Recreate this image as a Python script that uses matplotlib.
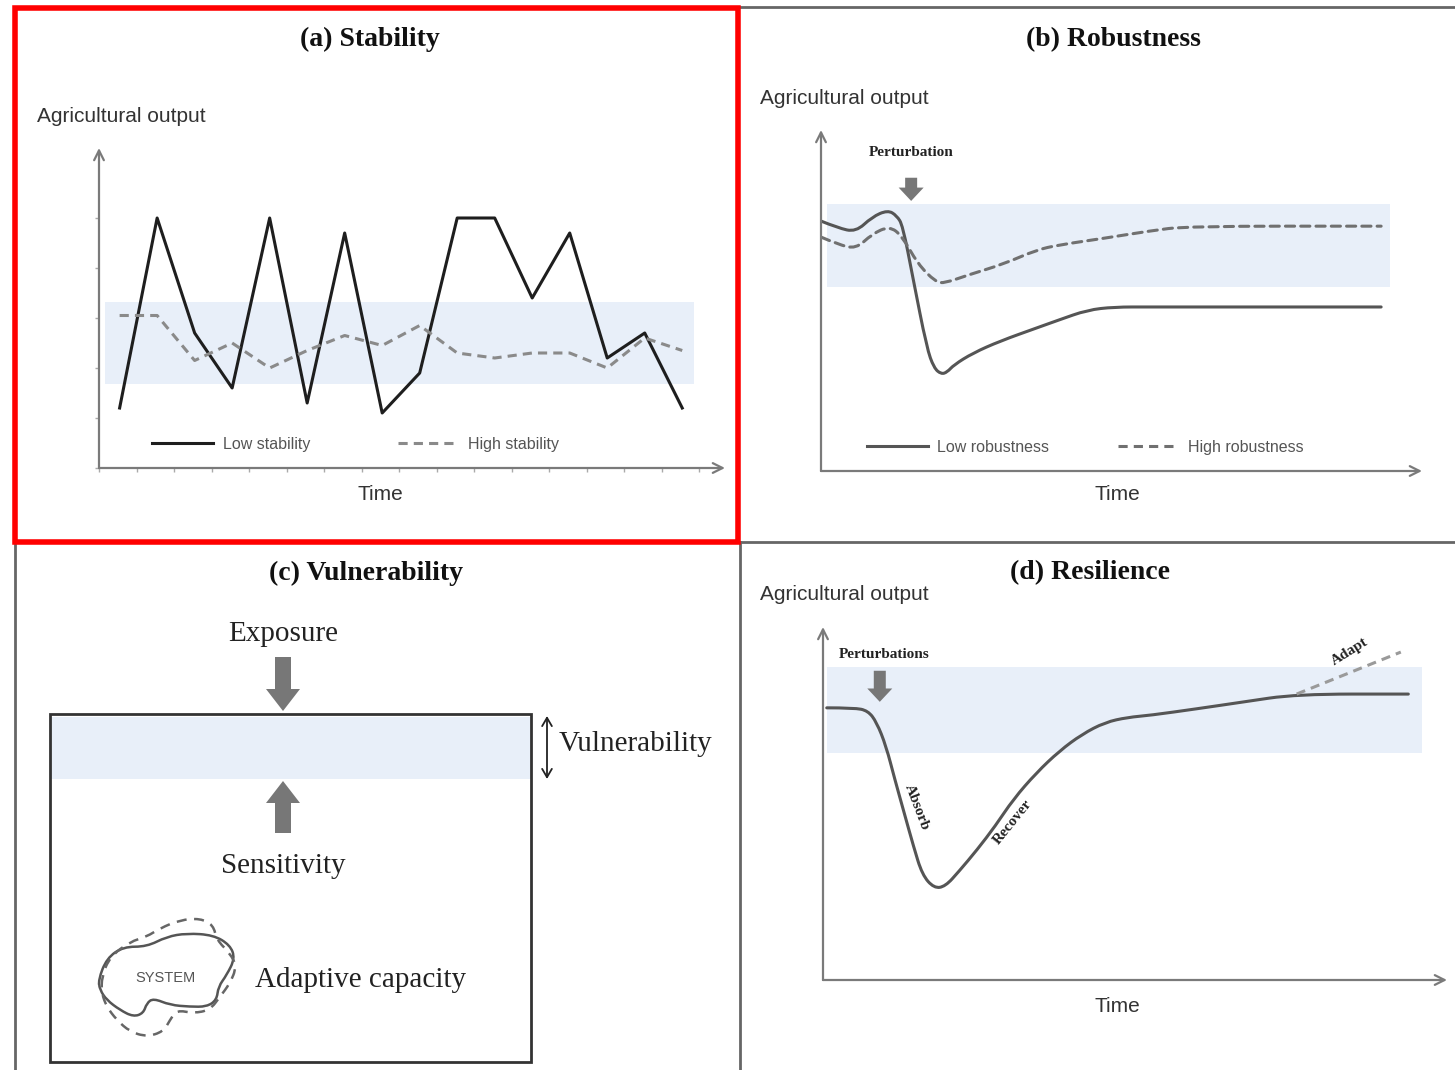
import numpy as np
import matplotlib.pyplot as plt
from matplotlib.patches import Rectangle, FancyArrow, PathPatch
from matplotlib.path import Path
from matplotlib.lines import Line2D

W, H = 1455, 1070

# (a) Stability
time_a = [0.55, 1.55, 2.55, 3.55, 4.55, 5.55, 6.55, 7.55, 8.55, 9.55, 10.55, 11.55, 12.55, 13.55, 14.55, 15.55]
low_stability = [1.2, 5.0, 2.7, 1.6, 5.0, 1.3, 4.7, 1.1, 1.9, 5.0, 5.0, 3.4, 4.7, 2.2, 2.7, 1.2]
high_stability = [3.05, 3.05, 2.15, 2.5, 2.0, 2.35, 2.65, 2.45, 2.85, 2.3, 2.2, 2.3, 2.3, 2.0, 2.6, 2.35]
band_a_x = (0.16, 15.87)
band_a_y = (1.68, 3.32)

# (b) Robustness
time_b_low = [0, 2.8, 5.8, 8.5, 11.1, 12.6, 13.6, 15.3, 17.6, 18.8, 20.0, 21.0, 22.1, 25.3, 29.8, 35.8, 39.6, 44.3, 48.8, 54.7, 93.2]
low_robust = [73.3, 71.3, 70.1, 74.5, 76.5, 74.9, 72.0, 56.6, 36.1, 30.2, 28.4, 29.0, 31.1, 34.6, 38.1, 41.9, 44.3, 47.2, 48.1, 48.1, 48.1]
time_b_high = [0, 2.8, 5.8, 8.5, 11.4, 13.5, 16.1, 19.1, 20.6, 24.5, 30.4, 35.8, 39.6, 47.3, 54.7, 60.9, 93.2]
high_robust = [68.6, 66.5, 65.1, 69.5, 71.8, 68.9, 60.7, 55.4, 55.1, 57.5, 60.7, 64.8, 66.3, 68.3, 70.4, 71.8, 71.8]
band_b_x = (1.0, 94.7)
band_b_y = (54.0, 78.3)
perturb_b = (15.0, 86.0, 79.2)  # time, arrow top, arrow tip

# (d) Resilience
time_d = [0.6, 5.0, 7.2, 8.6, 10.1, 11.5, 13.0, 14.5, 15.9, 17.8, 19.6, 21.8, 24.7, 27.6, 30.5,
          34.2, 37.9, 41.5, 45.2, 48.8, 52.5, 59.8, 67.1, 75.9, 93.8]
output_d = [77.1, 77.1, 76.3, 73.0, 66.3, 56.9, 47.4, 37.9, 29.8, 26.0, 26.5, 30.8, 36.9, 43.6, 51.2,
            58.7, 64.9, 69.6, 73.0, 74.4, 75.0, 76.8, 78.7, 81.0, 81.0]
adapt_t = [75.9, 92.6]
adapt_y = [81.0, 92.9]
band_d_x = (0.6, 96.0)
band_d_y = (64.3, 88.7)
perturb_d = (9.1, 87.6, 78.8)

# (c) system blob outlines (offsets from blob centre, px)
blob_solid_x = [-66.7, -58.3, -41.7, -18.3, 1.7, 21.7, 48.3, 65, 70, 61.7, 53.3, 51.7, 41.7, 25, 5, -11.7, -18.3, -21.7, -31.7, -45, -58.3, -65]
blob_solid_y = [2, -19.7, -31.3, -31.3, -41.3, -44.7, -43, -33, -19.7, -3, 8.7, 22, 28.7, 28.7, 27, 20.3, 25.3, 35.3, 38.7, 32, 22, 12]
blob_dash_x = [-63.3, -55, -35, -18.3, -5, 15, 35, 48.3, 51.7, 65, 71.7, 65, 55, 45, 28.3, 11.7, 5, -1.7, -18.3, -35, -48.3, -58.3, -63.3]
blob_dash_y = [-1.3, -21.3, -36.3, -41.3, -49.7, -58, -59.7, -53, -38, -24.7, -11.3, 5.3, 18.7, 32, 35.3, 32, 42, 53.7, 58.7, 53.7, 42, 28.7, 15.3]

SERIF = 'Liberation Serif'
SANS = 'Liberation Sans'
BAND = '#e8eff9'
AXC = '#7a7a7a'
DASH = (0, (3, 2))

fig = plt.figure(figsize=(W / 100, H / 100), dpi=100)
bg = fig.add_axes([0, 0, 1, 1])
bg.set_xlim(0, W)
bg.set_ylim(H, 0)
bg.axis('off')


def panel_ax(x0, ytop, x1, ybot, xmax, ymax):
    ax = fig.add_axes([x0 / W, 1 - ybot / H, (x1 - x0) / W, (ybot - ytop) / H])
    ax.set_xlim(0, xmax)
    ax.set_ylim(0, ymax)
    ax.patch.set_alpha(0)
    for s in ax.spines.values():
        s.set_visible(False)
    ax.set_xticks([])
    ax.set_yticks([])
    arr = dict(arrowstyle='->,head_length=0.7,head_width=0.35', lw=1.6, color=AXC, shrinkA=0, shrinkB=0)
    ax.annotate('', xy=(1, 0), xytext=(0, 0), xycoords='axes fraction', arrowprops=arr)
    ax.annotate('', xy=(0, 1), xytext=(0, 0), xycoords='axes fraction', arrowprops=arr)
    return ax


def perturb(ax, p):
    ax.annotate('', xy=(p[0], p[2]), xytext=(p[0], p[1]),
                arrowprops=dict(arrowstyle='simple,head_length=0.4,head_width=0.75,tail_width=0.36',
                                fc='#777777', ec='none', mutation_scale=24, shrinkA=0, shrinkB=0))


def smooth_open(xs, ys):
    # quadratic b-spline through the read points (rounded corners like the drawing)
    pts = np.column_stack([xs, ys])
    verts = [pts[0]]
    codes = [Path.MOVETO]
    for i in range(1, len(pts) - 1):
        verts += [pts[i], (pts[i] + pts[i + 1]) / 2]
        codes += [Path.CURVE3, Path.CURVE3]
    verts.append(pts[-1])
    codes.append(Path.LINETO)
    return Path(verts, codes)


def smooth_closed(xs, ys):
    pts = np.column_stack([xs, ys])
    mids = (pts + np.roll(pts, -1, axis=0)) / 2
    verts = [mids[-1]]
    codes = [Path.MOVETO]
    for i in range(len(pts)):
        verts += [pts[i], mids[i]]
        codes += [Path.CURVE3, Path.CURVE3]
    return Path(verts, codes)


def curve(ax, xs, ys, **kw):
    ax.add_patch(PathPatch(smooth_open(xs, ys), fill=False, capstyle='round', joinstyle='round', **kw))


# ---- frames
bg.add_patch(Rectangle((15, 8), 723, 534, fill=False, ec='#ff0000', lw=4, zorder=5))
for xs, ys in [([740, 1455], [7, 7]), ([740, 1455], [542, 542]), ([740, 740], [542, 1070]), ([15, 15], [542, 1070])]:
    bg.plot(xs, ys, color='#666666', lw=2)

# ---- (a)
ax = panel_ax(99, 148, 725, 468, 16.69, 6.4)
ax.set_xticks(range(0, 17))
ax.set_yticks(range(0, 6))
ax.tick_params(length=3, width=1, color='#aaaaaa', labelbottom=False, labelleft=False)
ax.fill_between(band_a_x, band_a_y[0], band_a_y[1], color=BAND, lw=0)
ax.plot(time_a, low_stability, color='#1e1e1e', lw=2.2, label='Low stability')
ax.plot(time_a, high_stability, color='#8a8a8a', lw=2.2, ls=DASH, label='High stability')
ax.legend(loc='center', bbox_to_anchor=(0.41, 0.075), ncol=2, frameon=False,
          prop={'family': SANS, 'size': 11.5}, labelcolor='#555555',
          handlelength=3.8, columnspacing=5.5, handletextpad=0.6)

# ---- (b)
ax = panel_ax(821, 130, 1422, 471, 100, 100)
ax.fill_between(band_b_x, band_b_y[0], band_b_y[1], color=BAND, lw=0)
curve(ax, time_b_low, low_robust, ec='#555555', lw=2.2)
curve(ax, time_b_high, high_robust, ec='#707070', lw=2.2, ls=DASH)
perturb(ax, perturb_b)
handles = [Line2D([], [], color='#555555', lw=2.2), Line2D([], [], color='#707070', lw=2.2, ls=DASH)]
ax.legend(handles, ['Low robustness', 'High robustness'], loc='center', bbox_to_anchor=(0.44, 0.07),
          ncol=2, frameon=False, prop={'family': SANS, 'size': 11.5}, labelcolor='#555555',
          handlelength=3.8, columnspacing=4.3, handletextpad=0.6)

# ---- (d)
ax = panel_ax(823, 627, 1447, 980, 100, 100)
ax.fill_between(band_d_x, band_d_y[0], band_d_y[1], color=BAND, lw=0)
ax.plot(adapt_t, adapt_y, color='#9a9a9a', lw=2.2, ls=DASH)
curve(ax, time_d, output_d, ec='#555555', lw=2.2)
perturb(ax, perturb_d)

# ---- (c)
bg.add_patch(Rectangle((50, 717), 481, 62, fc=BAND, ec='none'))
bg.add_patch(Rectangle((50, 714), 481, 348, fill=False, ec='#333333', lw=2))
bg.add_patch(FancyArrow(283, 657, 0, 54, width=16, head_width=34, head_length=22,
                        length_includes_head=True, color='#777777', lw=0))
bg.add_patch(FancyArrow(283, 833, 0, -52, width=16, head_width=34, head_length=22,
                        length_includes_head=True, color='#777777', lw=0))
bg.annotate('', xy=(547, 716), xytext=(547, 779),
            arrowprops=dict(arrowstyle='<->,head_length=0.6,head_width=0.35', lw=1.3, color='#222222',
                            shrinkA=0, shrinkB=0))
cx, cy = 165, 978
bg.add_patch(PathPatch(smooth_closed(np.array(blob_solid_x) + cx, np.array(blob_solid_y) + cy),
                       fill=False, ec='#555555', lw=1.8))
bg.add_patch(PathPatch(smooth_closed(np.array(blob_dash_x) + cx, np.array(blob_dash_y) + cy),
                       fill=False, ec='#666666', lw=1.8, ls=(0, (4, 3))))

# ---- texts
title_kw = dict(family=SERIF, weight='bold', size=20, ha='center', va='center', color='#111111')
bg.text(370, 39, '(a) Stability', **title_kw)
bg.text(1113, 40, '(b) Robustness', **title_kw)
bg.text(366, 573, '(c) Vulnerability', **title_kw)
bg.text(1090, 573, '(d) Resilience', **title_kw)

lab_kw = dict(family=SANS, size=15, va='center', color='#333333')
bg.text(37, 117, 'Agricultural output', ha='left', **lab_kw)
bg.text(760, 99, 'Agricultural output', ha='left', **lab_kw)
bg.text(760, 595, 'Agricultural output', ha='left', **lab_kw)
bg.text(380, 494, 'Time', ha='center', **lab_kw)
bg.text(1117, 494, 'Time', ha='center', **lab_kw)
bg.text(1117, 1006, 'Time', ha='center', **lab_kw)

small_kw = dict(family=SERIF, weight='bold', size=11, va='center', ha='center', color='#222222')
bg.text(911, 153, 'Perturbation', **small_kw)
bg.text(884, 654, 'Perturbations', **small_kw)
bg.text(917, 807, 'Absorb', rotation=-69, **small_kw)
bg.text(1013, 822, 'Recover', rotation=51, **small_kw)
bg.text(1350, 652, 'Adapt', rotation=32, **small_kw)

c_kw = dict(family=SERIF, size=21, va='center', color='#222222')
bg.text(283, 634, 'Exposure', ha='center', **c_kw)
bg.text(283, 866, 'Sensitivity', ha='center', **c_kw)
bg.text(559, 744, 'Vulnerability', ha='left', **c_kw)
bg.text(255, 980, 'Adaptive capacity', ha='left', **c_kw)
bg.text(cx, cy, 'SYSTEM', family=SANS, size=10.5, ha='center', va='center', color='#555555')

fig.savefig('out.png', dpi=100)
